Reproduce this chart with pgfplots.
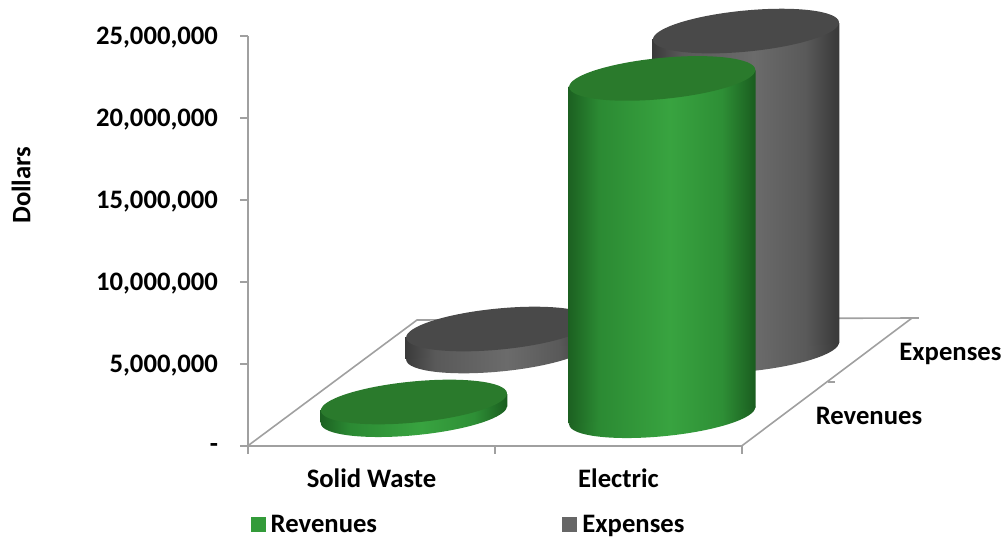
\documentclass[border=0pt]{standalone}
\usepackage{fontspec}
\setmainfont{Carlito}
\usepackage{pgfplots}
\pgfplotsset{compat=1.18}

\definecolor{axisgray}{HTML}{A0A0A0}
\definecolor{capgreen}{HTML}{2A7A2C}
\definecolor{capgray}{HTML}{494949}
\definecolor{swgreen}{HTML}{339B3A}
\definecolor{swgray}{HTML}{666666}

% the middle 50bp of a shading is what gets fitted to the path
\pgfdeclarehorizontalshading{cylgreen}{100bp}{
  rgb(0bp)=(0.11,0.38,0.13);
  rgb(25bp)=(0.11,0.38,0.13);
  rgb(33bp)=(0.17,0.54,0.20);
  rgb(52bp)=(0.22,0.64,0.25);
  rgb(66bp)=(0.18,0.56,0.21);
  rgb(75bp)=(0.10,0.36,0.12);
  rgb(100bp)=(0.10,0.36,0.12)}
\pgfdeclarehorizontalshading{cylgray}{100bp}{
  rgb(0bp)=(0.23,0.23,0.23);
  rgb(25bp)=(0.23,0.23,0.23);
  rgb(33bp)=(0.35,0.35,0.35);
  rgb(52bp)=(0.42,0.42,0.42);
  rgb(66bp)=(0.35,0.35,0.35);
  rgb(75bp)=(0.22,0.22,0.22);
  rgb(100bp)=(0.22,0.22,0.22)}

\newcommand{\capellipse}{\pgfpathellipse{\pgfpointorigin}{\pgfpointpolar{5.5}{70.1pt}}{\pgfpointpolar{95.5}{15.4pt}}}
\pgfdeclareplotmark{cylcap}{\capellipse\pgfusepathqfill}
\pgfdeclareplotmark{botgreen}{\capellipse\pgfshadepath{cylgreen}{0}\pgfusepath{discard}}
\pgfdeclareplotmark{botgray}{\capellipse\pgfshadepath{cylgray}{0}\pgfusepath{discard}}

\begin{document}
\begin{tikzpicture}[x=0.75pt,y=0.75pt]
\useasboundingbox (-248,-91.3) rectangle (754,445.7);
\begin{axis}[
    scale only axis,
    width=370.5pt,
    height=307.3pt,
    xmin=-0.5, xmax=1.5,
    ymin=0, ymax=25000000,
    clip=false,
    clip mode=individual,
    axis lines=left,
    axis line style={-, color=axisgray, line width=1.2pt},
    tick style={color=axisgray, line width=1.2pt},
    tick align=outside,
    major tick length=6pt,
    scaled y ticks=false,
    xtick={-0.5,0.5,1.5},
    x tick label as interval,
    xticklabels={Solid Waste,Electric},
    ytick={0,5000000,10000000,15000000,20000000,25000000},
    yticklabels={-,{5,000,000},{10,000,000},{15,000,000},{20,000,000},{25,000,000}},
    tick label style={font=\fontsize{20}{22}\selectfont\bfseries},
    xticklabel style={yshift=-8pt},
    yticklabel style={xshift=-13pt, yshift=-1.5pt},
    every axis y label/.style={at={(axis description cs:-0.4595,0.636)}, anchor=center, rotate=90},
    ylabel={Dollars},
    ylabel style={font=\fontsize{20}{22}\selectfont\bfseries},
    legend columns=2,
    legend style={draw=none, fill=none, inner sep=0pt, at={(axis cs:-0.49,-4050000)}, anchor=north west,
        font=\fontsize{20}{22}\selectfont\bfseries, cells={anchor=west},
        /tikz/column 2/.style={column sep=137pt}},
]
% floor
\addplot[axisgray, line width=1.2pt, forget plot] coordinates {(-0.5,0) (0.1842,7670000) (2.1883,7792000) (1.5,0)};
\addplot[axisgray, line width=1.2pt, forget plot] coordinates {(1.8482,3887000) (1.8765,3887000)};
\addplot[axisgray, line width=1.2pt, forget plot] coordinates {(2.1883,7792000) (2.2166,7792000)};

% Expenses, Electric
\addplot[only marks, mark=botgray, forget plot] coordinates {(1.516,5780000)};
\addplot[shade, shading=cylgray, draw=none, mark=none, forget plot] coordinates {
    (1.1375,24812000) (1.1375,5292000) (1.8945,6268000) (1.8945,25788000)} -- cycle;
\addplot[only marks, mark=cylcap, mark options={fill=capgray, draw=none}, forget plot] coordinates {(1.516,25300000)};

% Expenses, Solid Waste
\addplot[only marks, mark=botgray, forget plot] coordinates {(0.517,5780000)};
\addplot[shade, shading=cylgray, draw=none, mark=none, forget plot] coordinates {
    (0.1385,6632000) (0.1385,5292000) (0.8955,6268000) (0.8955,7608000)} -- cycle;
\addplot[only marks, mark=cylcap, mark options={fill=capgray, draw=none}, forget plot] coordinates {(0.517,7120000)};

% Revenues, Solid Waste
\addplot[only marks, mark=botgreen, forget plot] coordinates {(0.1717,1892000)};
\addplot[shade, shading=cylgreen, draw=none, mark=none, forget plot] coordinates {
    (-0.2068,2179000) (-0.2068,1404000) (0.5502,2380000) (0.5502,3155000)} -- cycle;
\addplot[only marks, mark=cylcap, mark options={fill=capgreen, draw=none}, forget plot] coordinates {(0.1717,2667000)};

% Revenues, Electric
\addplot[only marks, mark=botgreen, forget plot] coordinates {(1.177,1830000)};
\addplot[shade, shading=cylgreen, draw=none, mark=none, forget plot] coordinates {
    (0.7985,21922000) (0.7985,1342000) (1.5555,2318000) (1.5555,22898000)} -- cycle;
\addplot[only marks, mark=cylcap, mark options={fill=capgreen, draw=none}, forget plot] coordinates {(1.177,22410000)};

% depth axis labels
\node[font=\fontsize{20}{22}\selectfont\bfseries] at (axis cs:2.014,1810000) {Revenues};
\node[font=\fontsize{20}{22}\selectfont\bfseries] at (axis cs:2.344,5600000) {Expenses};

\addlegendimage{legend image code/.code={\fill[swgreen, draw=none] (0,-5.6pt) rectangle (11.25pt,5.6pt); \path[draw=none] (0,0) -- (13pt,0);}}
\addlegendentry{Revenues}
\addlegendimage{legend image code/.code={\fill[swgray, draw=none] (0,-5.6pt) rectangle (11.25pt,5.6pt); \path[draw=none] (0,0) -- (13pt,0);}}
\addlegendentry{Expenses}
\end{axis}
\end{tikzpicture}
\end{document}
